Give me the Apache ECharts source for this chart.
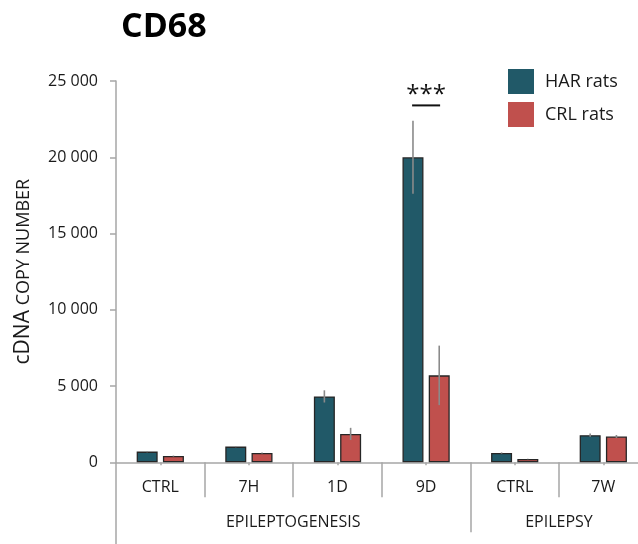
<!DOCTYPE html>
<html>
<head>
<meta charset="utf-8">
<script src="https://cdn.jsdelivr.net/npm/echarts@6/dist/echarts.min.js"></script>
<style>
  html, body { margin: 0; padding: 0; background: #fff; }
  #chart { width: 638px; height: 544px; }
</style>
</head>
<body>
<div id="chart"></div>
<script>
// CD68 expression by time point
const categories = ['CTRL', '7H', '1D', '9D', 'CTRL', '7W'];
const groupNames = ['EPILEPTOGENESIS', 'EPILEPSY'];
const groupCenters = [2, 5];      // positions on the 0..6 category span
const groupDividers = [4];        // boundary between the two phases
const harValues = [700, 1030, 4320, 20000, 610, 1780];
const crlValues = [410, 610, 1860, 5700, 220, 1690];
const harErrors = [40, 40, 400, 2400, 40, 110];
const crlErrors = [30, 30, 400, 1950, 20, 100];
const significance = [{ category: '9D', value: 23400, text: '***' }];

const FONT = '"Open Sans", "Liberation Sans", sans-serif';
const HAR_COLOR = '#215968';
const CRL_COLOR = '#C0504D';
const AXIS_COLOR = '#A6A6A6';
const TEXT_COLOR = '#1a1a1a';
const BAR_WIDTH = 21;
const BAR_GAP = 0.25;
const barOffset = (BAR_WIDTH * (1 + BAR_GAP)) / 2;

const fmt = v => String(v).replace(/\B(?=(\d{3})+(?!\d))/g, ' ');

// error bar rows: [categoryIndex, low, high, side]
const errorRows = [];
harValues.forEach((v, i) => errorRows.push([i, v - harErrors[i], v + harErrors[i], -1]));
crlValues.forEach((v, i) => errorRows.push([i, v - crlErrors[i], v + crlErrors[i], 1]));

const chart = echarts.init(document.getElementById('chart'), null, { renderer: 'canvas' });

chart.setOption({
  animation: false,
  backgroundColor: '#fff',
  textStyle: { fontFamily: FONT },
  title: {
    text: 'CD68',
    left: 116,
    top: 5,
    textStyle: { fontFamily: FONT, fontSize: 34, fontWeight: 'bold', color: '#000' }
  },
  legend: {
    orient: 'vertical',
    left: 508,
    top: 69,
    padding: 0,
    itemWidth: 26,
    itemHeight: 25,
    itemGap: 8,
    icon: 'rect',
    itemStyle: { borderWidth: 0 },
    textStyle: { fontFamily: FONT, fontSize: 18, color: TEXT_COLOR, padding: [0, 0, 0, 6] },
    data: ['HAR rats', 'CRL rats']
  },
  grid: {
    left: 116,
    top: 81,
    width: 531.6,
    height: 381.3,
    containLabel: false,
    outerBoundsMode: 'none'
  },
  xAxis: [
    {
      // main category axis: labels and boundary ticks
      type: 'category',
      data: categories,
      boundaryGap: true,
      axisLine: { show: true, lineStyle: { color: AXIS_COLOR, width: 1.5 } },
      axisTick: { show: true, alignWithLabel: false, interval: 0, length: 35, lineStyle: { color: AXIS_COLOR, width: 1.5 } },
      axisLabel: { interval: 0, margin: 17, fontSize: 16, color: TEXT_COLOR, fontFamily: FONT },
      splitLine: { show: false }
    },
    {
      // short marks at category centres
      type: 'category',
      data: categories,
      position: 'bottom',
      axisLine: { show: false },
      axisTick: { show: true, alignWithLabel: true, interval: 0, length: 3, lineStyle: { color: AXIS_COLOR, width: 1.5 } },
      axisLabel: { show: false },
      splitLine: { show: false }
    },
    {
      // phase labels and the divider between phases
      type: 'value',
      min: 0,
      max: categories.length,
      position: 'bottom',
      axisLine: { show: false },
      axisTick: { show: true, customValues: groupDividers, length: 70, lineStyle: { color: AXIS_COLOR, width: 1.5 } },
      axisLabel: {
        show: true,
        customValues: groupCenters,
        margin: 52,
        fontSize: 16,
        color: TEXT_COLOR,
        fontFamily: FONT,
        formatter: v => groupNames[groupCenters.indexOf(v)] || ''
      },
      splitLine: { show: false }
    },
    {
      // left edge line continuing the value axis down through the labels
      type: 'value',
      min: 0,
      max: categories.length,
      position: 'bottom',
      axisLine: { show: false },
      axisTick: { show: true, customValues: [0], length: 90, lineStyle: { color: AXIS_COLOR, width: 1.5 } },
      axisLabel: { show: false },
      splitLine: { show: false }
    }
  ],
  yAxis: {
    type: 'value',
    min: 0,
    max: 25000,
    interval: 5000,
    name: '{a|cDNA} {b|COPY NUMBER}',
    nameLocation: 'middle',
    nameGap: 82,
    nameRotate: 90,
    nameTextStyle: {
      fontSize: 18,
      fontFamily: FONT,
      rich: {
        a: { fontFamily: FONT, fontSize: 21, color: TEXT_COLOR },
        b: { fontFamily: FONT, fontSize: 18, color: TEXT_COLOR }
      }
    },
    axisLine: { show: true, lineStyle: { color: AXIS_COLOR, width: 1.5 } },
    axisTick: { show: true, length: 6, lineStyle: { color: AXIS_COLOR, width: 1.5 } },
    axisLabel: { margin: 18, fontSize: 16, color: TEXT_COLOR, fontFamily: FONT, formatter: v => fmt(v) },
    splitLine: { show: false }
  },
  series: [
    {
      name: 'HAR rats',
      type: 'bar',
      xAxisIndex: 0,
      data: harValues,
      barWidth: BAR_WIDTH,
      barGap: (BAR_GAP * 100) + '%',
      itemStyle: { color: HAR_COLOR, borderColor: '#262626', borderWidth: 1.3 }
    },
    {
      name: 'CRL rats',
      type: 'bar',
      xAxisIndex: 0,
      data: crlValues,
      barWidth: BAR_WIDTH,
      barGap: (BAR_GAP * 100) + '%',
      itemStyle: { color: CRL_COLOR, borderColor: '#262626', borderWidth: 1.3 }
    },
    {
      name: 'error',
      type: 'custom',
      xAxisIndex: 0,
      z: 5,
      data: errorRows,
      encode: { x: 0, y: [1, 2] },
      renderItem: (params, api) => {
        const idx = api.value(0);
        const lo = api.coord([idx, api.value(1)]);
        const hi = api.coord([idx, api.value(2)]);
        const x = lo[0] + api.value(3) * barOffset;
        return {
          type: 'line',
          shape: { x1: x, y1: lo[1], x2: x, y2: hi[1] },
          style: { stroke: '#8a8a8a', lineWidth: 1.6 }
        };
      }
    },
    {
      name: 'significance',
      type: 'custom',
      xAxisIndex: 0,
      z: 6,
      data: significance.map(s => [s.category, s.value, s.text]),
      renderItem: (params, api) => {
        const p = api.coord([api.value(0), api.value(1)]);
        const item = significance[params.dataIndex];
        return {
          type: 'group',
          children: [
            {
              type: 'line',
              shape: { x1: p[0] - 14, y1: p[1], x2: p[0] + 14, y2: p[1] },
              style: { stroke: '#111', lineWidth: 2 }
            },
            {
              type: 'text',
              x: p[0],
              y: p[1] + 2,
              style: {
                text: item.text,
                fill: '#111',
                font: '24px ' + FONT,
                align: 'center',
                verticalAlign: 'bottom'
              }
            }
          ]
        };
      }
    }
  ]
});
</script>
</body>
</html>
